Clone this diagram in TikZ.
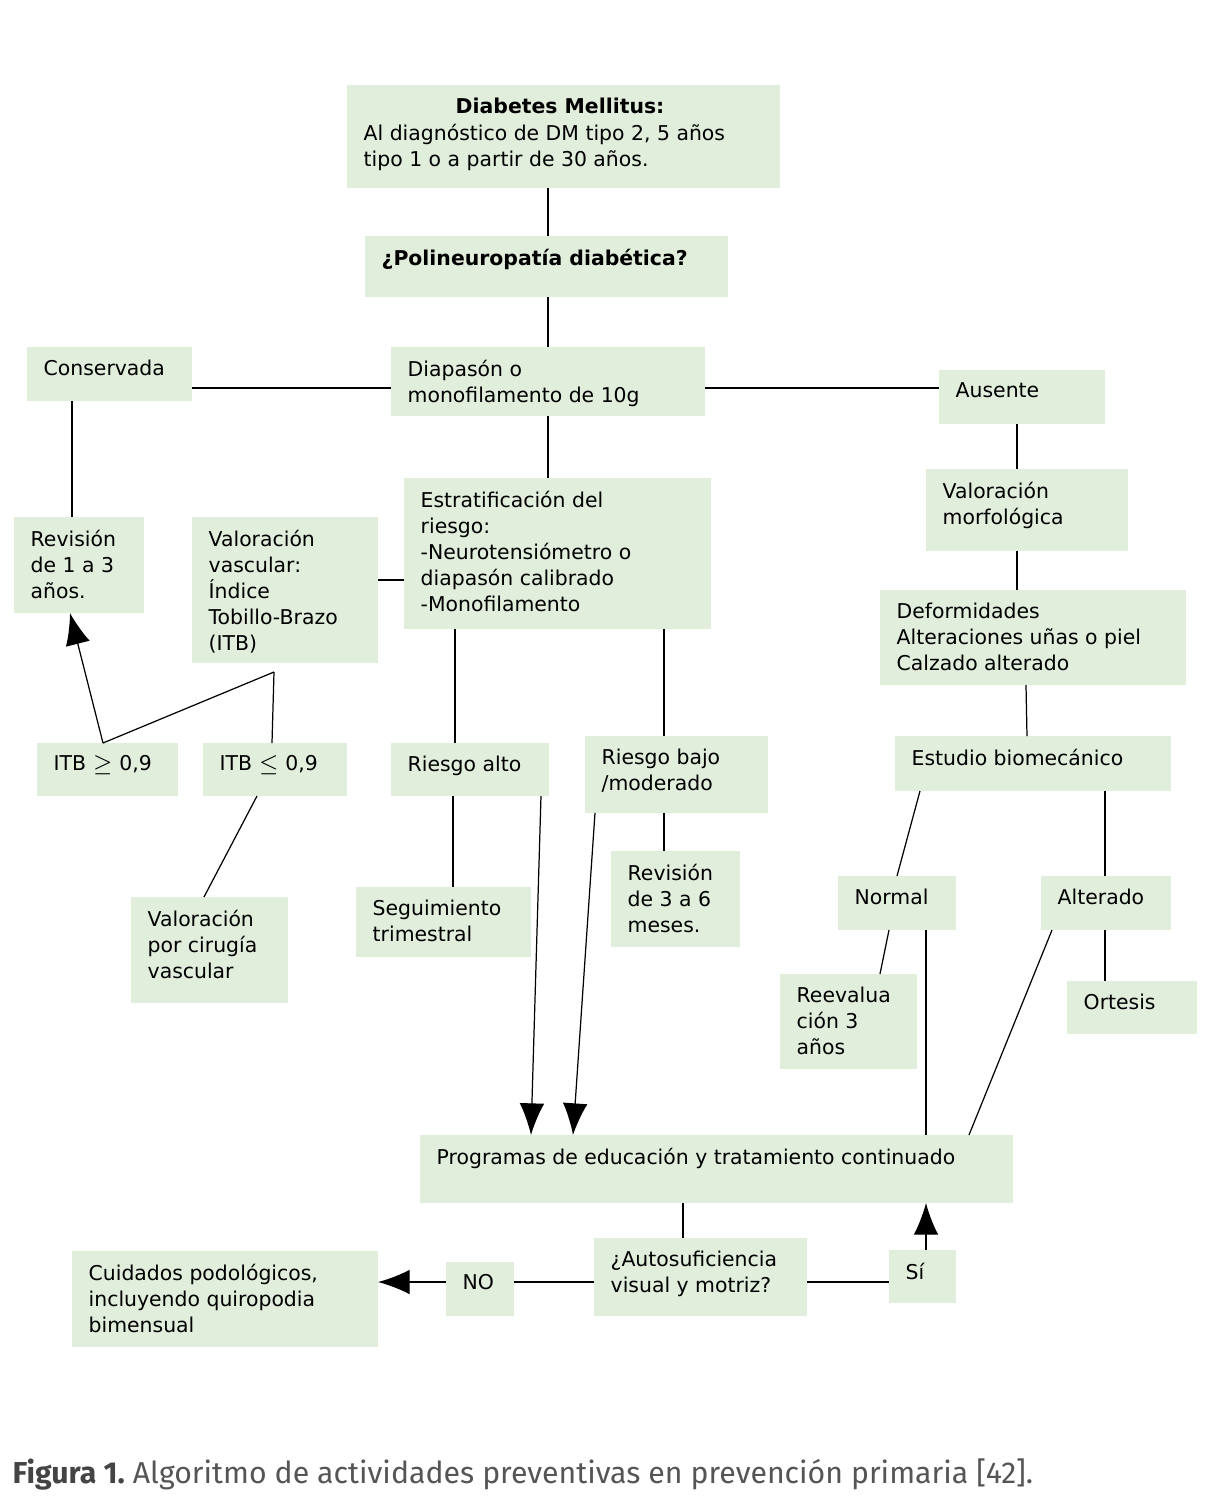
\documentclass[tikz,border=0pt]{standalone}
\usepackage{fontspec}
\setmainfont{DejaVu Sans}
\newfontfamily\capfont{Fira Sans}
\usetikzlibrary{arrows.meta,calc}
\definecolor{boxg}{HTML}{E1EEDC}
\definecolor{capg}{HTML}{555555}
\begin{document}
\begin{tikzpicture}[x=0.01cm,y=-0.01cm,
  box/.style={fill=boxg,draw=none,inner sep=0pt,outer sep=0pt},
  txt/.style={anchor=north west,align=left,inner sep=0pt,font=\fontsize{5.8}{7.4}\selectfont},
  ln/.style={draw=black,line width=0.35pt},
  ar/.style={ln,-{Latex[length=9pt,width=7pt]}}]
\useasboundingbox (0,0) rectangle (1214,1508);
\newcommand\bx[6]{%
  \node[box,minimum width={(#4-#2)*0.01cm},minimum height={(#5-#3)*0.01cm}] (#1) at ({(#2+#4)/2},{(#3+#5)/2}) {};
  \node[txt] at (#2+16,#3+12) {#6};}
\bx{dm}{347}{85}{780}{188}{}
\node[txt,font=\fontsize{5.8}{7.4}\selectfont\bfseries] at (455,97) {Diabetes Mellitus:};
\node[txt] at (363,123) {Al diagnóstico de DM tipo 2, 5 años\\tipo 1 o a partir de 30 años.};
\bx{poli}{365}{236}{728}{297}{\textbf{¿Polineuropatía diabética?}}
\bx{cons}{27}{347}{192}{401}{Conservada}
\bx{diap}{391}{347}{705}{416}{Diapasón o\\monofilamento de 10g}
\bx{aus}{939}{370}{1105}{424}{Ausente}
\bx{rev13}{14}{517}{144}{613}{Revisión\\de 1 a 3\\años.}
\bx{vv}{192}{517}{378}{663}{Valoración\\vascular:\\Índice\\Tobillo-Brazo\\(ITB)}
\bx{est}{404}{478}{711}{629}{Estratificación del\\riesgo:\\-Neurotensiómetro o\\diapasón calibrado\\-Monofilamento}
\bx{vm}{926}{469}{1128}{551}{Valoración\\morfológica}
\bx{def}{880}{590}{1186}{685}{Deformidades\\Alteraciones uñas o piel\\Calzado alterado}
\bx{itbge}{37}{743}{178}{796}{ITB $\geq$ 0,9}
\bx{itble}{203}{743}{347}{796}{ITB $\leq$ 0,9}
\bx{ra}{391}{743}{549}{796}{Riesgo alto}
\bx{rb}{585}{736}{768}{813}{Riesgo bajo\\/moderado}
\bx{eb}{895}{736}{1171}{791}{Estudio biomecánico}
\bx{vc}{131}{897}{288}{1003}{Valoración\\por cirugía\\vascular}
\bx{seg}{356}{887}{531}{957}{Seguimiento\\trimestral}
\bx{rev36}{611}{851}{740}{947}{Revisión\\de 3 a 6\\meses.}
\bx{nor}{838}{876}{956}{930}{Normal}
\bx{alt}{1041}{876}{1171}{930}{Alterado}
\bx{reev}{780}{974}{917}{1069}{Reevalua\\ción 3\\años}
\bx{ort}{1067}{981}{1197}{1034}{Ortesis}
\bx{prog}{420}{1135}{1013}{1203}{Programas de educación y tratamiento continuado}
\bx{auto}{594}{1238}{807}{1316}{¿Autosuficiencia\\visual y motriz?}
\bx{si}{889}{1250}{956}{1303}{Sí}
\bx{no}{446}{1262}{514}{1316}{NO}
\bx{cuid}{72}{1251}{378}{1347}{Cuidados podológicos,\\incluyendo quiropodia\\bimensual}
\coordinate (j) at (274,672);
% connectors
\draw[ln] (dm.south -| 548,0) -- (poli.north -| 548,0);
\draw[ln] (poli.south -| 548,0) -- (diap.north -| 548,0);
\draw[ln] (cons.east |- 0,388) -- (diap.west |- 0,388);
\draw[ln] (diap.east |- 0,388) -- (aus.west |- 0,388);
\draw[ln] (cons.south -| 72,0) -- (rev13.north -| 72,0);
\draw[ln] (diap.south -| 548,0) -- (est.north -| 548,0);
\draw[ln] (vv.east |- 0,580) -- (est.west |- 0,580);
\draw[ln] (aus.south -| 1017,0) -- (vm.north -| 1017,0);
\draw[ln] (vm.south -| 1017,0) -- (def.north -| 1017,0);
\draw[ln] (def.south -| 1026,0) -- (eb.north -| 1027,0);
\draw[ln] (j) -- (itble.north -| 272,0);
\draw[ln] (j) -- (itbge.north -| 103,0);
\draw[ar] (itbge.north -| 103,0) -- (rev13.south -| 70,0);
\draw[ln] (itble.south -| 257,0) -- (vc.north -| 204,0);
\draw[ln] (est.south -| 455,0) -- (ra.north -| 455,0);
\draw[ln] (est.south -| 664,0) -- (rb.north -| 664,0);
\draw[ln] (ra.south -| 453,0) -- (seg.north -| 453,0);
\draw[ar] (ra.south -| 541,0) -- (prog.north -| 531,0);
\draw[ar] (rb.south -| 595,0) -- (prog.north -| 573,0);
\draw[ln] (rb.south -| 664,0) -- (rev36.north -| 664,0);
\draw[ln] (eb.south -| 920,0) -- (nor.north -| 897,0);
\draw[ln] (eb.south -| 1105,0) -- (alt.north -| 1105,0);
\draw[ln] (nor.south -| 889,0) -- (reev.north -| 880,0);
\draw[ln] (nor.south -| 926,0) -- (prog.north -| 926,0);
\draw[ln] (alt.south -| 1052,0) -- (prog.north -| 969,0);
\draw[ln] (alt.south -| 1105,0) -- (ort.north -| 1105,0);
\draw[ln] (prog.south -| 683,0) -- (auto.north -| 683,0);
\draw[ln] (auto.east |- 0,1282) -- (si.west |- 0,1282);
\draw[ar] (si.north -| 926,0) -- (prog.south -| 926,0);
\draw[ln] (auto.west |- 0,1282) -- (no.east |- 0,1282);
\draw[ar] (no.west |- 0,1282) -- (cuid.east |- 0,1282);
\node[anchor=base west,inner sep=0pt,font=\capfont\fontsize{8.6}{10}\selectfont] (cap) at (12,1483)
  {\textcolor{capg!80!black}{\textbf{Figura 1.}}\ \textcolor{capg}{\addfontfeature{}Algoritmo de actividades preventivas en prevención primaria [42].}};
\end{tikzpicture}
\end{document}
